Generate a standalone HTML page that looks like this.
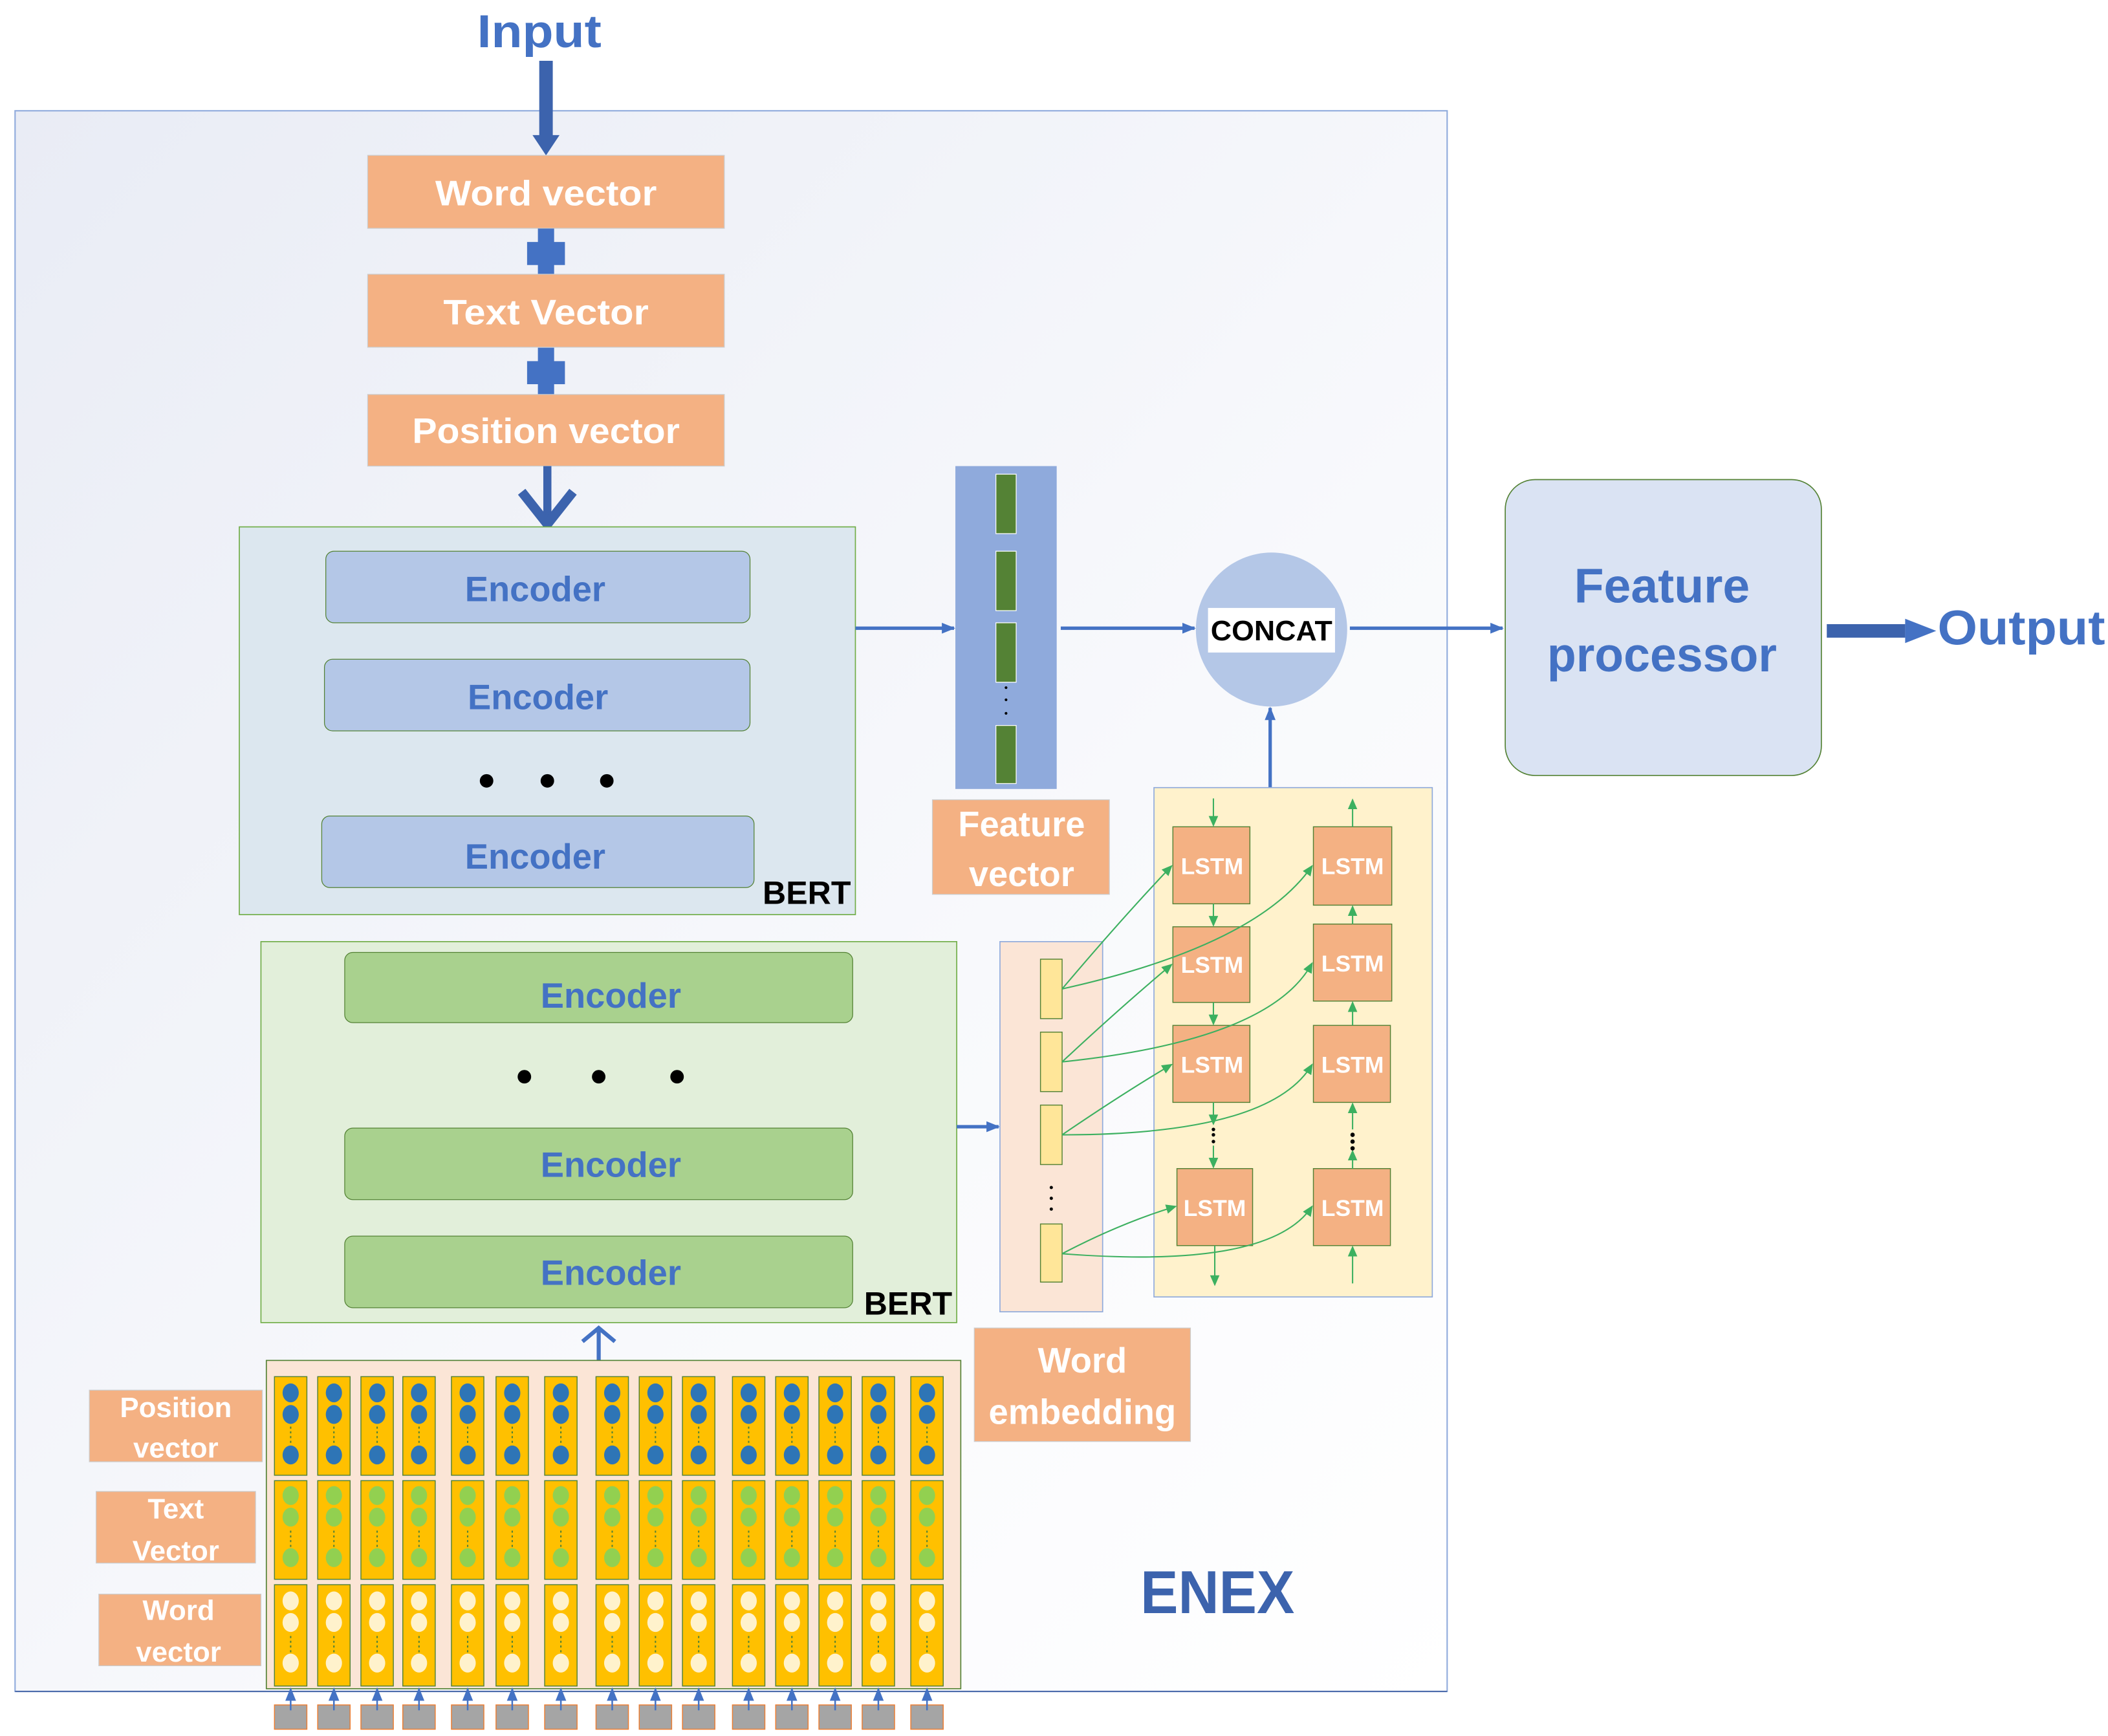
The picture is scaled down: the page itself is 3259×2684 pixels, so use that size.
<!DOCTYPE html>
<html><head><meta charset="utf-8"><style>html,body{margin:0;padding:0;background:#fff}svg{display:block}text{font-family:"Liberation Sans",sans-serif;font-weight:bold}</style></head>
<body>
<svg width="3259" height="2684" viewBox="0 0 1560 1285" xmlns="http://www.w3.org/2000/svg">
<defs>
<linearGradient id="bg" x1="0" y1="0" x2="1" y2="1"><stop offset="0" stop-color="#e9ecf5"/><stop offset="0.6" stop-color="#f8f9fc"/><stop offset="1" stop-color="#ffffff"/></linearGradient>
<marker id="ab" markerWidth="10" markerHeight="10" refX="9" refY="5" orient="auto" markerUnits="userSpaceOnUse"><path d="M0,1 L10,5 L0,9 z" fill="#4472c4"/></marker>
<marker id="ag" markerWidth="8" markerHeight="8" refX="7" refY="4" orient="auto" markerUnits="userSpaceOnUse"><path d="M0,0.5 L8,4 L0,7.5 z" fill="#3cb060"/></marker>
<g id="col">
<rect x="0" y="1019" width="24" height="73" fill="#ffc000" stroke="#548235" stroke-width="0.7"/>
<rect x="0" y="1096" width="24" height="73" fill="#ffc000" stroke="#548235" stroke-width="0.7"/>
<rect x="0" y="1173" width="24" height="75" fill="#ffc000" stroke="#548235" stroke-width="0.7"/>
<ellipse cx="12" cy="1031" rx="6" ry="7" fill="#2e75b6"/><ellipse cx="12" cy="1047" rx="6" ry="7" fill="#2e75b6"/><ellipse cx="12" cy="1077" rx="6" ry="7" fill="#2e75b6"/>
<line x1="12" y1="1056" x2="12" y2="1068" stroke="#548235" stroke-dasharray="1.5,2"/>
<ellipse cx="12" cy="1107" rx="6" ry="7" fill="#92d050"/><ellipse cx="12" cy="1123" rx="6" ry="7" fill="#92d050"/><ellipse cx="12" cy="1153" rx="6" ry="7" fill="#92d050"/>
<line x1="12" y1="1133" x2="12" y2="1145" stroke="#548235" stroke-dasharray="1.5,2"/>
<ellipse cx="12" cy="1185" rx="6" ry="7" fill="#fff2cc"/><ellipse cx="12" cy="1201" rx="6" ry="7" fill="#fff2cc"/><ellipse cx="12" cy="1231" rx="6" ry="7" fill="#fff2cc"/>
<line x1="12" y1="1211" x2="12" y2="1223" stroke="#548235" stroke-dasharray="1.5,2"/>
<rect x="0" y="1262" width="24" height="18" fill="#a5a5a5" stroke="#ed7d31" stroke-width="0.7"/>
<line x1="12" y1="1266" x2="12" y2="1250" stroke="#4472c4" stroke-width="1.2" marker-end="url(#ab)"/>
</g>
</defs>

<!-- main frame -->
<rect x="11" y="82" width="1060" height="1170" fill="url(#bg)" stroke="#8faadc" stroke-width="1"/>
<line x1="11" y1="1252" x2="1071" y2="1252" stroke="#4a6aaa" stroke-width="1"/>

<text x="399" y="35" font-size="34" fill="#4472c4" text-anchor="middle" textLength="92" lengthAdjust="spacingAndGlyphs">Input</text>
<rect x="399" y="45" width="10" height="58" fill="#3c63ad"/>
<path d="M394,100 L414,100 L404,115 z" fill="#3c63ad"/>

<rect x="272" y="115" width="264" height="54" fill="#f4b183" stroke="#ccc" stroke-width="0.6"/>
<text x="404" y="152" font-size="26" fill="#fff" text-anchor="middle" textLength="164" lengthAdjust="spacingAndGlyphs">Word vector</text>
<path d="M398,169 h12 v11 h8 v19 h-8 v11 h-12 v-11 h-8 v-19 h8 z" fill="#4472c4" transform="translate(0,0) scale(1,0.9) translate(0,19)"/>
<rect x="272" y="203" width="264" height="54" fill="#f4b183" stroke="#ccc" stroke-width="0.6"/>
<text x="404" y="240" font-size="26" fill="#fff" text-anchor="middle" textLength="152" lengthAdjust="spacingAndGlyphs">Text Vector</text>
<path d="M398,257 h12 v11 h8 v19 h-8 v11 h-12 v-11 h-8 v-19 h8 z" fill="#4472c4" transform="scale(1,0.9) translate(0,29)"/>
<rect x="272" y="292" width="264" height="53" fill="#f4b183" stroke="#ccc" stroke-width="0.6"/>
<text x="404" y="328" font-size="26" fill="#fff" text-anchor="middle" textLength="198" lengthAdjust="spacingAndGlyphs">Position vector</text>
<line x1="405" y1="345" x2="405" y2="385" stroke="#3c63ad" stroke-width="6"/>
<polyline points="386,364 405,388 424,364" fill="none" stroke="#3c63ad" stroke-width="7"/>

<!-- BERT 1 -->
<rect x="177" y="390" width="456" height="287" fill="#dce7ef" stroke="#70ad47" stroke-width="0.8"/>
<rect x="241" y="408" width="314" height="53" rx="6" fill="#b4c7e7" stroke="#548235" stroke-width="0.6"/>
<text x="396" y="445" font-size="26" fill="#4472c4" text-anchor="middle">Encoder</text>
<rect x="240" y="488" width="315" height="53" rx="6" fill="#b4c7e7" stroke="#548235" stroke-width="0.6"/>
<text x="398" y="525" font-size="26" fill="#4472c4" text-anchor="middle">Encoder</text>
<circle cx="360" cy="578" r="5" fill="#000"/><circle cx="405" cy="578" r="5" fill="#000"/><circle cx="449" cy="578" r="5" fill="#000"/>
<rect x="238" y="604" width="320" height="53" rx="6" fill="#b4c7e7" stroke="#548235" stroke-width="0.6"/>
<text x="396" y="643" font-size="26" fill="#4472c4" text-anchor="middle">Encoder</text>
<text x="597" y="669" font-size="24" fill="#000" text-anchor="middle">BERT</text>

<line x1="633" y1="465" x2="706" y2="465" stroke="#4472c4" stroke-width="2.5" marker-end="url(#ab)"/>

<!-- Feature vector column -->
<rect x="707" y="345" width="75" height="239" fill="#8faadc"/>
<rect x="737" y="351" width="15" height="44" fill="#548235" stroke="#fff" stroke-width="0.6"/>
<rect x="737" y="408" width="15" height="44" fill="#548235" stroke="#fff" stroke-width="0.6"/>
<rect x="737" y="461" width="15" height="44" fill="#548235" stroke="#fff" stroke-width="0.6"/>
<circle cx="744.5" cy="509" r="1" fill="#000"/><circle cx="744.5" cy="518" r="1" fill="#000"/><circle cx="744.5" cy="528" r="1" fill="#000"/>
<rect x="737" y="537" width="15" height="43" fill="#548235" stroke="#fff" stroke-width="0.6"/>
<rect x="690" y="592" width="131" height="70" fill="#f4b183" stroke="#ccc" stroke-width="0.6"/>
<text x="756" y="619" font-size="26" fill="#fff" text-anchor="middle">Feature</text>
<text x="756" y="656" font-size="26" fill="#fff" text-anchor="middle">vector</text>

<line x1="785" y1="465" x2="884" y2="465" stroke="#4472c4" stroke-width="2.5" marker-end="url(#ab)"/>
<ellipse cx="941" cy="466" rx="56" ry="57" fill="#b4c7e7"/>
<rect x="894" y="450" width="94" height="33" fill="#fff"/>
<text x="941" y="474" font-size="21" fill="#000" text-anchor="middle" textLength="90" lengthAdjust="spacingAndGlyphs">CONCAT</text>
<line x1="999" y1="465" x2="1112" y2="465" stroke="#4472c4" stroke-width="2.5" marker-end="url(#ab)"/>
<line x1="940" y1="583" x2="940" y2="524" stroke="#4472c4" stroke-width="2.5" marker-end="url(#ab)"/>

<rect x="1114" y="355" width="234" height="219" rx="22" fill="#dae3f3" stroke="#548235" stroke-width="0.8"/>
<text x="1230" y="446" font-size="36" fill="#4472c4" text-anchor="middle">Feature</text>
<text x="1230" y="497" font-size="36" fill="#4472c4" text-anchor="middle" textLength="170" lengthAdjust="spacingAndGlyphs">processor</text>
<rect x="1352" y="462" width="58" height="10" fill="#3c63ad"/>
<path d="M1410,458 L1433,467 L1410,476 z" fill="#4472c4"/>
<text x="1496" y="477" font-size="36" fill="#4472c4" text-anchor="middle" textLength="124" lengthAdjust="spacingAndGlyphs">Output</text>

<!-- BERT 2 -->
<rect x="193" y="697" width="515" height="282" fill="#e2efda" stroke="#70ad47" stroke-width="0.8"/>
<rect x="255" y="705" width="376" height="52" rx="6" fill="#a9d18e" stroke="#548235" stroke-width="0.6"/>
<text x="452" y="746" font-size="26" fill="#4472c4" text-anchor="middle">Encoder</text>
<circle cx="388" cy="797" r="5" fill="#000"/><circle cx="443" cy="797" r="5" fill="#000"/><circle cx="501" cy="797" r="5" fill="#000"/>
<rect x="255" y="835" width="376" height="53" rx="6" fill="#a9d18e" stroke="#548235" stroke-width="0.6"/>
<text x="452" y="871" font-size="26" fill="#4472c4" text-anchor="middle">Encoder</text>
<rect x="255" y="915" width="376" height="53" rx="6" fill="#a9d18e" stroke="#548235" stroke-width="0.6"/>
<text x="452" y="951" font-size="26" fill="#4472c4" text-anchor="middle">Encoder</text>
<text x="672" y="973" font-size="24" fill="#000" text-anchor="middle">BERT</text>
<line x1="708" y1="834" x2="739" y2="834" stroke="#4472c4" stroke-width="2.5" marker-end="url(#ab)"/>

<!-- word embedding column -->
<rect x="740" y="697" width="76" height="274" fill="#fbe5d6" stroke="#8faadc" stroke-width="0.8"/>
<rect x="770" y="710" width="16" height="44" fill="#ffe699" stroke="#548235" stroke-width="0.7"/>
<rect x="770" y="764" width="16" height="44" fill="#ffe699" stroke="#548235" stroke-width="0.7"/>
<rect x="770" y="818" width="16" height="44" fill="#ffe699" stroke="#548235" stroke-width="0.7"/>
<circle cx="778" cy="879" r="1.2" fill="#000"/><circle cx="778" cy="887" r="1.2" fill="#000"/><circle cx="778" cy="895" r="1.2" fill="#000"/>
<rect x="770" y="906" width="16" height="43" fill="#ffe699" stroke="#548235" stroke-width="0.7"/>
<rect x="721" y="983" width="160" height="84" fill="#f4b183" stroke="#ccc" stroke-width="0.6"/>
<text x="801" y="1016" font-size="26" fill="#fff" text-anchor="middle">Word</text>
<text x="801" y="1054" font-size="26" fill="#fff" text-anchor="middle">embedding</text>

<!-- LSTM container -->
<rect x="854" y="583" width="206" height="377" fill="#fff2cc" stroke="#8faadc" stroke-width="0.8"/>
<g fill="#f4b183" stroke="#548235" stroke-width="0.7">
<rect x="868" y="612" width="57" height="57"/><rect x="868" y="686" width="57" height="56"/><rect x="868" y="759" width="57" height="57"/><rect x="871" y="865" width="56" height="57"/>
<rect x="972" y="612" width="58" height="58"/><rect x="972" y="684" width="58" height="57"/><rect x="972" y="759" width="57" height="57"/><rect x="972" y="865" width="57" height="57"/>
</g>
<g font-size="17" fill="#fff" text-anchor="middle">
<text x="897" y="647" font-weight="normal">LSTM</text><text x="897" y="720">LSTM</text><text x="897" y="794">LSTM</text><text x="899" y="900">LSTM</text>
<text x="1001" y="647">LSTM</text><text x="1001" y="719">LSTM</text><text x="1001" y="794">LSTM</text><text x="1001" y="900">LSTM</text>
</g>
<g stroke="#3cb060" stroke-width="1" fill="none">
<line x1="898" y1="591" x2="898" y2="611" marker-end="url(#ag)"/>
<line x1="898" y1="669" x2="898" y2="685" marker-end="url(#ag)"/>
<line x1="898" y1="742" x2="898" y2="758" marker-end="url(#ag)"/>
<line x1="898" y1="816" x2="898" y2="832" marker-end="url(#ag)"/>
<line x1="898" y1="848" x2="898" y2="864" marker-end="url(#ag)"/>
<line x1="899" y1="922" x2="899" y2="951" marker-end="url(#ag)"/>
<line x1="1001" y1="612" x2="1001" y2="592" marker-end="url(#ag)"/>
<line x1="1001" y1="684" x2="1001" y2="671" marker-end="url(#ag)"/>
<line x1="1001" y1="759" x2="1001" y2="742" marker-end="url(#ag)"/>
<line x1="1001" y1="836" x2="1001" y2="817" marker-end="url(#ag)"/>
<line x1="1001" y1="865" x2="1001" y2="852" marker-end="url(#ag)"/>
<line x1="1001" y1="950" x2="1001" y2="923" marker-end="url(#ag)"/>
<path d="M786,732 Q830,680 867,641" marker-end="url(#ag)"/>
<path d="M786,732 Q930,700 971,641" marker-end="url(#ag)"/>
<path d="M786,786 Q830,745 867,714" marker-end="url(#ag)"/>
<path d="M786,786 Q940,770 971,713" marker-end="url(#ag)"/>
<path d="M786,840 Q830,810 867,788" marker-end="url(#ag)"/>
<path d="M786,840 Q940,840 971,788" marker-end="url(#ag)"/>
<path d="M786,928 Q830,905 870,893" marker-end="url(#ag)"/>
<path d="M786,928 Q940,940 971,893" marker-end="url(#ag)"/>
</g>
<g fill="#000"><circle cx="898" cy="836" r="1.3"/><circle cx="898" cy="840" r="1.3"/><circle cx="898" cy="845" r="1.3"/>
<circle cx="1001" cy="840" r="1.6"/><circle cx="1001" cy="845" r="1.6"/><circle cx="1001" cy="850" r="1.6"/></g>

<!-- bottom embedding block -->
<line x1="443" y1="1007" x2="443" y2="985" stroke="#4472c4" stroke-width="3"/>
<polyline points="431,993 443,983 455,993" fill="none" stroke="#4472c4" stroke-width="3"/>
<rect x="197" y="1007" width="514" height="243" fill="#fbe5d6" stroke="#548235" stroke-width="0.8"/>
<use href="#col" x="203"/><use href="#col" x="235"/><use href="#col" x="267"/><use href="#col" x="298"/>
<use href="#col" x="334"/><use href="#col" x="367"/><use href="#col" x="403"/><use href="#col" x="441"/>
<use href="#col" x="473"/><use href="#col" x="505"/><use href="#col" x="542"/><use href="#col" x="574"/>
<use href="#col" x="606"/><use href="#col" x="638"/><use href="#col" x="674"/>

<rect x="66" y="1029" width="128" height="53" fill="#f4b183" stroke="#ccc" stroke-width="0.6"/>
<text x="130" y="1049" font-size="21" fill="#fff" text-anchor="middle">Position</text>
<text x="130" y="1079" font-size="21" fill="#fff" text-anchor="middle">vector</text>
<rect x="71" y="1104" width="118" height="53" fill="#f4b183" stroke="#ccc" stroke-width="0.6"/>
<text x="130" y="1124" font-size="21" fill="#fff" text-anchor="middle">Text</text>
<text x="130" y="1155" font-size="21" fill="#fff" text-anchor="middle">Vector</text>
<rect x="73" y="1180" width="120" height="53" fill="#f4b183" stroke="#ccc" stroke-width="0.6"/>
<text x="132" y="1199" font-size="21" fill="#fff" text-anchor="middle">Word</text>
<text x="132" y="1230" font-size="21" fill="#fff" text-anchor="middle">vector</text>

<text x="901" y="1194" font-size="45" fill="#3c63ad" text-anchor="middle" textLength="114" lengthAdjust="spacingAndGlyphs">ENEX</text>
</svg>
</body></html>
